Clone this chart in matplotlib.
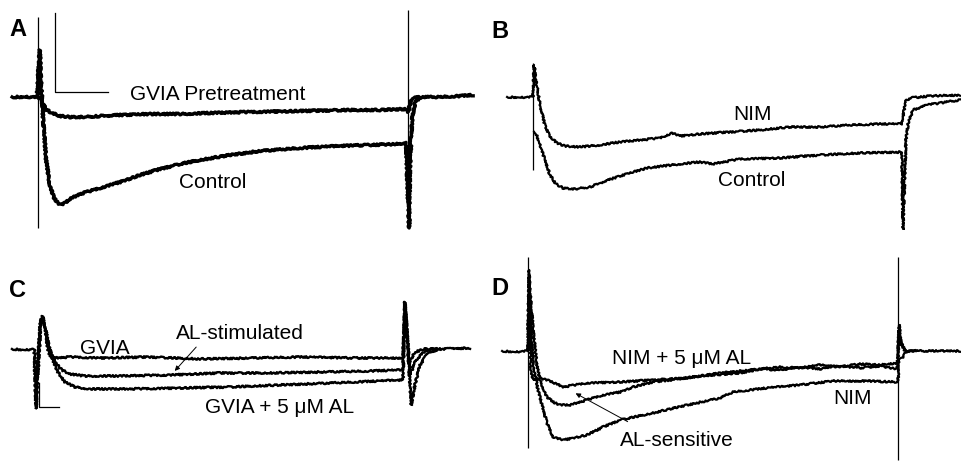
import matplotlib.pyplot as plt

plt.rcParams['font.family'] = ['Liberation Sans', 'DejaVu Sans']

# Time in ms (pulse from 0 to 100 ms), current in pA.

# A: control vs GVIA pretreatment
a_t_gvia = [-7.0, -4.9, -2.2, -0.3, 0.5, 1.4, 2.4, 3.8, 5.9, 8.6, 12.7, 16.8, 22.2, 30.3, 38.4, 46.5,
            57.3, 70.8, 84.3, 92.4, 99.5, 100.0, 100.3, 100.8, 101.6, 103.2, 108.6, 114.1, 117.6]
a_i_gvia = [0, 0, 0, 0, -10, -70, -130, -160, -190, -200, -200, -190, -180, -170, -170, -160,
            -150, -140, -130, -130, -120, -150, -110, -30, -10, 0, 0, 10, 20]
a_t_ctrl = [-0.3, 0.3, 0.5, 0.8, 1.4, 2.2, 3.2, 4.3, 5.4, 6.2, 7.3, 8.6, 11.4, 14.1, 16.8, 22.2, 27.6,
            33.0, 38.4, 43.8, 51.9, 60.0, 70.8, 81.6, 89.7, 97.8, 99.5, 100.0, 100.3, 100.5, 101.1,
            101.9, 103.2]
a_i_ctrl = [0, 370, 470, 170, -230, -630, -880, -1010, -1060, -1080, -1060, -1020, -970, -940, -910,
            -850, -780, -720, -670, -630, -580, -540, -510, -490, -480, -470, -460, -1030, -1310,
            -730, -230, -50, -10]
a_art_t = [0, 100]
a_art_top = [800, 870]
a_art_bot = [-1310, -1310]

# B: control vs nimodipine
b_t_nim = [-7.0, -3.5, -0.3, 0.0, 0.3, 0.8, 1.9, 3.2, 4.6, 6.5, 8.6, 12.7, 18.1, 23.5, 29.2, 34.3,
           37.6, 39.7, 45.1, 53.2, 61.4, 69.5, 77.6, 85.7, 93.8, 99.7, 100.3, 100.8, 101.9, 107.3,
           115.4]
b_i_nim = [0, -5, 0, 0, 320, 170, -80, -280, -400, -460, -490, -500, -480, -450, -430, -410,
           -360, -390, -370, -350, -330, -300, -300, -280, -270, -270, -130, -40, -10, 10, 20]
b_t_ctrl = [0.3, 0.8, 1.9, 3.2, 4.6, 6.2, 8.1, 11.4, 15.4, 18.1, 23.5, 30.8, 39.7, 45.1, 48.6, 55.9,
            66.8, 77.6, 88.4, 99.7, 100.0, 100.8, 101.4, 102.7, 106.5, 115.4]
b_i_ctrl = [-350, -360, -480, -630, -780, -870, -910, -920, -900, -860, -790, -710, -670, -650,
            -670, -620, -610, -580, -560, -550, -1330, -430, -260, -130, -80, -30]
b_art_t = [0]
b_art_top = [340]
b_art_bot = [-730]

# C: GVIA, AL-stimulated, GVIA + 5 uM AL
c_t_gvia = [-6.5, -3.0, -0.5, 0.0, 0.5, 1.1, 1.6, 2.2, 2.7, 3.2, 3.8, 5.1, 9.2, 17.3, 30.8, 44.3,
            57.8, 71.4, 84.9, 99.2, 99.7, 100.8, 102.4, 105.1, 110.0, 117.3]
c_i_gvia = [0, -10, 0, -590, -110, 240, 330, 290, 140, -10, -70, -90, -80, -90, -80, -100,
            -90, -80, -90, -90, 470, -140, -30, 0, 0, 10]
c_t_mid = [0.0, 0.5, 1.1, 1.6, 2.2, 3.0, 3.8, 5.1, 7.0, 9.2, 13.2, 22.7, 36.2, 49.7, 63.2, 76.8,
           90.3, 99.2, 99.7, 101.1, 102.7, 105.1, 107.8]
c_i_mid = [-590, -200, 200, 320, 270, 110, -10, -130, -210, -250, -270, -270, -260, -240, -240,
           -230, -220, -210, 470, -260, -110, -20, 0]
c_t_al = [0.0, 0.7, 1.3, 1.8, 2.4, 3.2, 4.3, 5.9, 7.8, 10.5, 14.6, 25.4, 38.9, 52.4, 65.9, 79.5,
          93.0, 99.2, 99.7, 101.4, 102.4, 103.8, 105.9, 109.2]
c_i_al = [-590, -100, 250, 320, 240, 70, -90, -230, -330, -380, -400, -400, -390, -380, -360,
          -340, -320, -310, 470, -560, -360, -160, -40, 0]

# D: NIM, NIM + 5 uM AL, AL-sensitive
d_t_top = [-7.0, -3.5, -0.3, 0.0, 0.3, 0.8, 1.4, 3.2, 5.9, 9.5, 12.7, 15.9, 24.9, 33.8, 43.0, 51.9,
           57.3, 62.7, 68.1, 73.5, 78.9, 84.3, 89.7, 95.1, 99.7, 100.0, 100.3, 100.8, 101.9, 116.8]
d_i_top = [0, -10, 0, 0, 700, -190, -290, -270, -300, -360, -340, -320, -310, -290, -270, -220,
           -200, -180, -160, -170, -140, -160, -130, -140, -120, -120, 260, 90, 0, 0]
d_t_mid = [0.0, 0.3, 1.4, 2.4, 3.2, 5.1, 6.8, 8.6, 11.4, 15.9, 20.3, 24.9, 28.4, 33.8, 38.4, 46.5,
           57.3, 62.7, 68.1, 73.5, 78.9, 84.3, 89.7, 95.1, 99.7, 100.3, 100.8, 101.9]
d_i_mid = [0, 710, 210, -140, -290, -460, -510, -540, -540, -490, -440, -410, -360, -310, -290,
           -250, -220, -180, -190, -160, -180, -150, -170, -150, -180, 210, 60, 0]
d_t_nim = [0.0, 0.3, 0.8, 1.4, 2.4, 3.2, 5.1, 6.8, 9.5, 12.2, 15.9, 20.3, 24.9, 33.8, 43.0, 51.9,
           55.4, 64.6, 73.5, 82.4, 91.6, 99.7, 100.0, 100.3, 101.1, 102.2, 104.6]
d_i_nim = [0, 810, 210, -120, -340, -460, -720, -860, -890, -870, -840, -760, -690, -620, -540,
           -470, -410, -370, -340, -300, -300, -310, -310, -90, -70, -10, 0]
d_art_t = [0, 100]
d_art_top = [940, 940]
d_art_bot = [-970, -1090]

# layout: pixels per ms / per pA, and where t=0 and I=0 sit inside each panel
px_ms = 3.7
px_pa = 0.1
W, H = 961, 461


def make_panel(fig, left, top, width, height, onset_px, base_px):
    ax = fig.add_axes([left / W, 1 - (top + height) / H, width / W, height / H])
    ax.set_xlim(-onset_px / px_ms, (width - onset_px) / px_ms)
    ax.set_ylim((base_px - height) / px_pa, base_px / px_pa)
    ax.axis('off')
    return ax


def trace(ax, t, i, lw):
    # recorded traces are noisy: draw them with a small sketch jitter
    ln, = ax.plot(t, i, color='k', lw=lw, solid_joinstyle='round')
    ln.set_sketch_params(0.9, 2.5, 3.0)
    return ln


fig = plt.figure(figsize=(W / 100, H / 100), dpi=100)
axA = make_panel(fig, 0, 0, 480, 230, 38, 97)
axB = make_panel(fig, 480, 0, 481, 230, 53, 97)
axC = make_panel(fig, 0, 230, 480, 231, 36, 119)
axD = make_panel(fig, 480, 230, 481, 231, 48, 121)

fs = 15
fl = 17

# A
axA.vlines(a_art_t, a_art_bot, a_art_top, color='k', lw=0.9)
trace(axA, a_t_gvia, a_i_gvia, 2.4)
trace(axA, a_t_ctrl, a_i_ctrl, 2.4)
axA.plot([4.6, 4.6, 18.9], [840, 50, 50], color='k', lw=0.9)  # scale bar
axA.text(-5.4, 670, 'A', fontsize=fl, fontweight='bold', ha='center', va='center')
axA.text(48.6, 20, 'GVIA Pretreatment', fontsize=fs, ha='center', va='center')
axA.text(47.3, -850, 'Control', fontsize=fs, ha='center', va='center')

# B
axB.vlines(b_art_t, b_art_bot, b_art_top, color='k', lw=0.9)
trace(axB, b_t_nim, b_i_nim, 1.6)
trace(axB, b_t_ctrl, b_i_ctrl, 1.6)
axB.text(-8.9, 650, 'B', fontsize=fl, fontweight='bold', ha='center', va='center')
axB.text(59.2, -180, 'NIM', fontsize=fs, ha='center', va='center')
axB.text(59.2, -830, 'Control', fontsize=fs, ha='center', va='center')

# C
trace(axC, c_t_gvia, c_i_gvia, 1.7)
trace(axC, c_t_mid, c_i_mid, 1.7)
trace(axC, c_t_al, c_i_al, 1.7)
axC.plot([0.8, 0.8, 6.2], [-340, -580, -580], color='k', lw=0.9)  # scale bar
axC.text(-4.9, 590, 'C', fontsize=fl, fontweight='bold', ha='center', va='center')
axC.text(18.6, 10, 'GVIA', fontsize=fs, ha='center', va='center')
axC.text(55.1, 160, 'AL-stimulated', fontsize=fs, ha='center', va='center')
axC.annotate('', xy=(37.0, -240), xytext=(43.8, 40),
             arrowprops=dict(arrowstyle='-|>', lw=0.7, color='k', mutation_scale=7))
axC.text(65.9, -580, 'GVIA + 5 \u03bcM AL', fontsize=fs, ha='center', va='center')

# D
axD.vlines(d_art_t, d_art_bot, d_art_top, color='k', lw=0.9)
trace(axD, d_t_top, d_i_top, 1.6)
trace(axD, d_t_mid, d_i_mid, 1.6)
trace(axD, d_t_nim, d_i_nim, 1.6)
axD.text(-7.6, 630, 'D', fontsize=fl, fontweight='bold', ha='center', va='center')
axD.text(41.6, -70, 'NIM + 5 \u03bcM AL', fontsize=fs, ha='center', va='center')
axD.text(87.8, -470, 'NIM', fontsize=fs, ha='center', va='center')
axD.text(40.3, -890, 'AL-sensitive', fontsize=fs, ha='center', va='center')
axD.annotate('', xy=(12.2, -410), xytext=(27.6, -720),
             arrowprops=dict(arrowstyle='-|>', lw=0.7, color='k', mutation_scale=7))

fig.savefig('out.png', dpi=100)
